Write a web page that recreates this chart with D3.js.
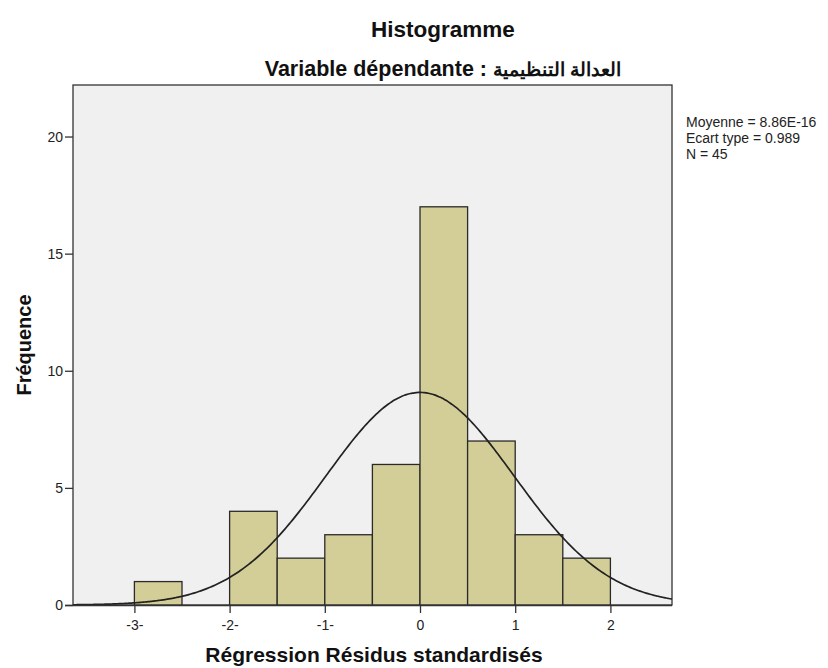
<!DOCTYPE html>
<html>
<head>
<meta charset="utf-8">
<script src="https://cdn.jsdelivr.net/npm/d3@7"></script>
<style>
  body { margin: 0; background: #fff; }
  svg { display: block; font-family: "Liberation Sans", Arial, sans-serif; }
</style>
</head>
<body>
<svg id="chart" width="828" height="668"></svg>
<script>
// Histogram bins (lower edge) and counts
const binStarts = [-3, -2, -1.5, -1, -0.5, 0, 0.5, 1, 1.5];
const binWidth = 0.5;
const counts = [1, 4, 2, 3, 6, 17, 7, 3, 2];

// Axis ticks
const xTicks = [-3, -2, -1, 0, 1, 2];
const xTickLabels = ["-3-", "-2-", "-1-", "0", "1", "2"];
const yTicks = [0, 5, 10, 15, 20];

// Summary statistics
const mean = 8.86e-16;
const sd = 0.989;
const n = 45;
const statLines = ["Moyenne = 8.86E-16", "Ecart type = 0.989", "N = 45"];

const svg = d3.select("#chart");
const plot = { left: 73, right: 672, top: 85, bottom: 605 };

const x = d3.scaleLinear().domain([-3.645, 2.647]).range([plot.left, plot.right]);
const y = d3.scaleLinear().domain([0, 22.2]).range([plot.bottom, plot.top]);

// Plot background
svg.append("rect")
  .attr("x", plot.left).attr("y", plot.top)
  .attr("width", plot.right - plot.left).attr("height", plot.bottom - plot.top)
  .attr("fill", "#f0f0f0").attr("stroke", "#333").attr("stroke-width", 1.3);

// Bars
svg.append("g").selectAll("rect")
  .data(binStarts.map((s, i) => ({ s, c: counts[i] })))
  .join("rect")
  .attr("x", d => x(d.s))
  .attr("y", d => y(d.c))
  .attr("width", d => x(d.s + binWidth) - x(d.s))
  .attr("height", d => y(0) - y(d.c))
  .attr("fill", "#d3ce97")
  .attr("stroke", "#2a2a2a")
  .attr("stroke-width", 1.3);

// Fitted normal curve
const scaleN = n * binWidth / (sd * Math.sqrt(2 * Math.PI));
const curvePts = d3.range(0, 301).map(i => {
  const v = x.domain()[0] + (x.domain()[1] - x.domain()[0]) * i / 300;
  return [v, scaleN * Math.exp(-0.5 * ((v - mean) / sd) ** 2)];
});
svg.append("path")
  .datum(curvePts)
  .attr("fill", "none")
  .attr("stroke", "#222")
  .attr("stroke-width", 1.7)
  .attr("d", d3.line().x(d => x(d[0])).y(d => y(d[1])).curve(d3.curveBasis));

// Axes
const xAxis = d3.axisBottom(x).tickValues(xTicks)
  .tickFormat((d, i) => xTickLabels[i]).tickSize(8).tickSizeOuter(0);
const gx = svg.append("g").attr("transform", `translate(0,${plot.bottom})`).call(xAxis);
gx.select(".domain").attr("stroke", "#333").attr("stroke-width", 1.3)
  .attr("d", `M${plot.left - 8},0.5H${plot.right}`);
gx.selectAll(".tick line").attr("stroke", "#333").attr("stroke-width", 1.3);
gx.selectAll(".tick text").attr("font-size", 14).attr("fill", "#222")
  .attr("y", 25).attr("dy", 0);

const yAxis = d3.axisLeft(y).tickValues(yTicks).tickSize(8).tickSizeOuter(0);
const gy = svg.append("g").attr("transform", `translate(${plot.left},0)`).call(yAxis);
gy.select(".domain").remove();
gy.selectAll(".tick line").attr("stroke", "#333").attr("stroke-width", 1.3);
gy.selectAll(".tick text").attr("font-size", 14).attr("fill", "#222").attr("x", -10);

// Titles
svg.append("text").attr("x", 443).attr("y", 37).attr("text-anchor", "middle")
  .attr("font-size", 22.5).attr("font-weight", "bold").attr("fill", "#111")
  .text("Histogramme");
const sub = svg.append("text").attr("x", 443).attr("y", 76).attr("text-anchor", "middle")
  .attr("font-size", 21.5).attr("font-weight", "bold").attr("fill", "#111");
sub.append("tspan").text("Variable dépendante : ");
sub.append("tspan").attr("font-size", 19).text("العدالة التنظيمية");

// Axis titles
svg.append("text").attr("x", 374).attr("y", 662).attr("text-anchor", "middle")
  .attr("font-size", 21).attr("font-weight", "bold").attr("fill", "#111")
  .text("Régression Résidus standardisés");
svg.append("text").attr("transform", "translate(31,345) rotate(-90)")
  .attr("text-anchor", "middle")
  .attr("font-size", 20).attr("font-weight", "bold").attr("fill", "#111")
  .text("Fréquence");

// Statistics block
svg.append("g").selectAll("text").data(statLines).join("text")
  .attr("x", 686).attr("y", (d, i) => 127 + i * 16)
  .attr("font-size", 14).attr("fill", "#222")
  .text(d => d);
</script>
</body>
</html>
